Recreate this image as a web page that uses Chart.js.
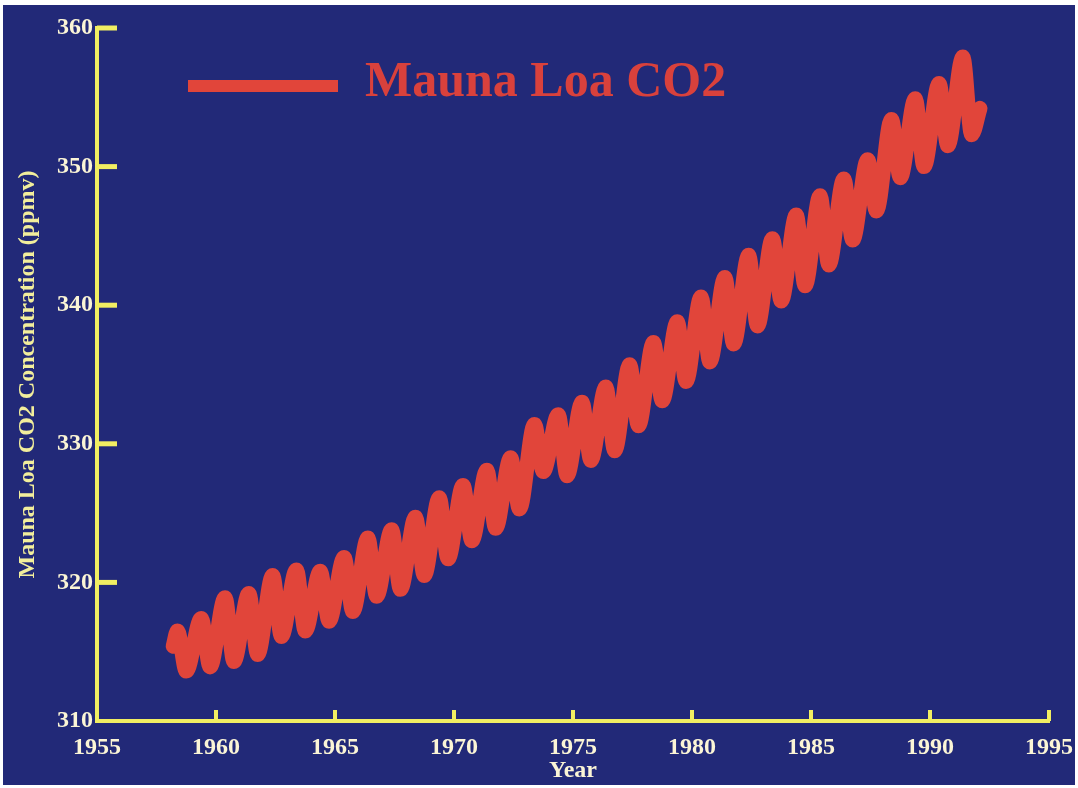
<!DOCTYPE html>
<html>
<head>
<meta charset="utf-8">
<script src="https://cdn.jsdelivr.net/npm/chart.js@4"></script>
<style>
  html, body { margin: 0; padding: 0; background: #ffffff; overflow: hidden; }
  #wrap { position: absolute; left: 3px; top: 5px; width: 1072px; height: 780px; background: #222978; }
  canvas { display: block; }
</style>
</head>
<body>
<div id="wrap"><canvas id="c" width="1072" height="780"></canvas></div>
<script>
// ---- data (seasonal highs and lows) ----
const seriesLabel = 'Mauna Loa CO2';
const years = [1958.2, 1958.38, 1958.75, 1959.38, 1959.75, 1960.38, 1960.75, 1961.38, 1961.75,
  1962.38, 1962.75, 1963.38, 1963.75, 1964.38, 1964.75, 1965.38, 1965.75, 1966.38, 1966.75,
  1967.38, 1967.75, 1968.38, 1968.75, 1969.38, 1969.75, 1970.38, 1970.75, 1971.38, 1971.75,
  1972.38, 1972.75, 1973.38, 1973.75, 1974.38, 1974.75, 1975.38, 1975.75, 1976.38, 1976.75,
  1977.38, 1977.75, 1978.38, 1978.75, 1979.38, 1979.75, 1980.38, 1980.75, 1981.38, 1981.75,
  1982.38, 1982.75, 1983.38, 1983.75, 1984.38, 1984.75, 1985.38, 1985.75, 1986.38, 1986.75,
  1987.38, 1987.75, 1988.38, 1988.75, 1989.38, 1989.75, 1990.38, 1990.75, 1991.38, 1991.75, 1992.1];
const co2 = [315.4, 316.5, 313.6, 317.4, 313.9, 318.9, 314.3, 319.2, 314.8,
  320.5, 316.1, 320.9, 316.5, 320.8, 317.2, 321.8, 317.9, 323.2, 319.0,
  323.8, 319.5, 324.7, 320.5, 326.1, 321.7, 327.0, 323.0, 328.1, 323.9,
  329.0, 325.3, 331.4, 328.0, 332.1, 327.7, 333.0, 328.8, 334.1, 329.5,
  335.7, 331.3, 337.3, 333.1, 338.8, 334.5, 340.6, 335.9, 342.0, 337.2,
  343.6, 338.5, 344.8, 340.3, 346.5, 341.4, 347.9, 342.9, 349.1, 344.7,
  350.5, 346.8, 353.4, 349.2, 354.9, 350.0, 356.0, 351.5, 357.9, 352.3, 354.2];
const xTicks = [1955, 1960, 1965, 1970, 1975, 1980, 1985, 1990, 1995];
const yTicks = [310, 320, 330, 340, 350, 360];
const xTitle = 'Year';
const yTitle = 'Mauna Loa CO2 Concentration (ppmv)';

const AXIS = '#f1ee62';
const LABEL = '#fbf5d6';
const RED = '#e1453a';
const SERIF = '"Liberation Serif", "Times New Roman", serif';

const points = years.map((x, i) => ({ x: x, y: co2[i] }));

const inwardTicks = {
  id: 'inwardTicks',
  afterDraw(chart) {
    const { ctx, chartArea: a, scales: { x, y } } = chart;
    ctx.save();
    ctx.strokeStyle = AXIS;
    ctx.lineCap = 'butt';
    ctx.lineWidth = 5;
    y.ticks.forEach(t => {
      if (t.value === yTicks[0]) return;
      const py = y.getPixelForValue(t.value);
      ctx.beginPath(); ctx.moveTo(a.left, py); ctx.lineTo(a.left + 20, py); ctx.stroke();
    });
    ctx.lineWidth = 4;
    x.ticks.forEach(t => {
      if (t.value === xTicks[0]) return;
      const px = x.getPixelForValue(t.value);
      ctx.beginPath(); ctx.moveTo(px, a.bottom); ctx.lineTo(px, a.bottom - 11); ctx.stroke();
    });
    ctx.restore();
  }
};

const legendBox = {
  id: 'legendBox',
  afterDraw(chart) {
    const { ctx, chartArea: a } = chart;
    const ds = chart.data.datasets[0];
    ctx.save();
    ctx.fillStyle = ds.borderColor;
    ctx.fillRect(a.left + 91, 75, 150, 12);
    ctx.font = 'bold 50px ' + SERIF;
    ctx.fillStyle = '#d9413c';
    ctx.textBaseline = 'alphabetic';
    ctx.textAlign = 'left';
    ctx.fillText(ds.label, a.left + 268, 91);
    ctx.restore();
  }
};

new Chart(document.getElementById('c'), {
  type: 'line',
  data: {
    datasets: [{
      label: seriesLabel,
      data: points,
      borderColor: RED,
      borderWidth: 15,
      pointRadius: 0,
      fill: false,
      cubicInterpolationMode: 'monotone',
      borderCapStyle: 'round',
      borderJoinStyle: 'round'
    }]
  },
  options: {
    responsive: false,
    animation: false,
    devicePixelRatio: 1,
    layout: { padding: { left: 0, right: 26, top: 23, bottom: 0 } },
    plugins: { legend: { display: false }, tooltip: { enabled: false } },
    scales: {
      x: {
        type: 'linear',
        min: xTicks[0],
        max: xTicks[xTicks.length - 1],
        afterBuildTicks: s => { s.ticks = xTicks.map(v => ({ value: v })); },
        ticks: {
          color: LABEL, padding: 12, maxRotation: 0, autoSkip: false,
          font: { family: SERIF, weight: 'bold', size: 24 },
          callback: v => String(v)
        },
        grid: { display: false, drawTicks: false, tickLength: 0 },
        border: { display: true, color: AXIS, width: 4 },
        title: {
          display: true, text: xTitle, color: LABEL,
          font: { family: SERIF, weight: 'bold', size: 24 },
          padding: { top: 0, bottom: 0 }
        },
        afterFit: s => { s.height = 64; s.paddingRight = 0; s.paddingLeft = 0; }
      },
      y: {
        type: 'linear',
        min: yTicks[0],
        max: yTicks[yTicks.length - 1],
        afterBuildTicks: s => { s.ticks = yTicks.map(v => ({ value: v })); },
        ticks: {
          color: LABEL, padding: 4,
          font: { family: SERIF, weight: 'bold', size: 24 },
          callback: v => String(v)
        },
        grid: { display: false, drawTicks: false, tickLength: 0 },
        border: { display: true, color: AXIS, width: 4 },
        title: {
          display: true, text: yTitle, color: '#f2ee9c',
          font: { family: SERIF, weight: 'bold', size: 24 },
          padding: { top: 10, bottom: 0 }
        },
        afterFit: s => { s.width = 94; s.paddingTop = 0; s.paddingBottom = 0; }
      }
    }
  },
  plugins: [inwardTicks, legendBox]
});
</script>
</body>
</html>
